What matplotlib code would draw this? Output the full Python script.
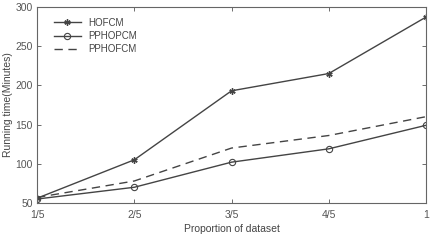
import matplotlib.pyplot as plt

plt.rcParams['font.family'] = ['Liberation Sans', 'DejaVu Sans']

# Data
labels = ['1/5', '2/5', '3/5', '4/5', '1']
hofcm = [56, 105, 193, 215, 287]
pphopcm = [55, 70, 102, 119, 149]
pphofcm = [57, 78, 120, 136, 160]

col = '#444444'
fig = plt.figure(figsize=(4.36, 2.46), dpi=100)
ax = fig.add_axes([0.085, 0.175, 0.892, 0.797])
x = range(len(labels))
ax.plot(x, hofcm, color=col, lw=1.0, marker=(6, 2, 0), ms=4.5, label='HOFCM')
ax.plot(x, pphopcm, color=col, lw=1.0, marker='o', ms=4.5, mfc='none', mew=0.8, label='PPHOPCM')
ax.plot(x, pphofcm, color=col, lw=1.0, ls=(0, (6, 4)), label='PPHOFCM')

ax.set_xlim(0, 4)
ax.set_ylim(50, 300)
ax.set_xticks(list(x))
ax.set_xticklabels(labels)
ax.set_yticks([50, 100, 150, 200, 250, 300])
ax.tick_params(direction='in', top=True, right=True, labelsize=7.5, colors='#555555',
               length=3, width=0.6)
ax.tick_params(axis='x', pad=5)
ax.tick_params(axis='y', pad=3)
for s in ax.spines.values():
    s.set_color('#666666')
    s.set_linewidth(0.8)
ax.set_xlabel('Proportion of dataset', fontsize=7.5, color='#444444', labelpad=3)
ax.set_ylabel('Running time(Minutes)', fontsize=7.5, color='#444444', labelpad=2)
leg = ax.legend(loc='upper left', frameon=False, fontsize=7, handlelength=2.8,
                labelspacing=0.35, bbox_to_anchor=(0.02, 0.99))
for t in leg.get_texts():
    t.set_color('#444444')

fig.savefig('out.png', dpi=100)
